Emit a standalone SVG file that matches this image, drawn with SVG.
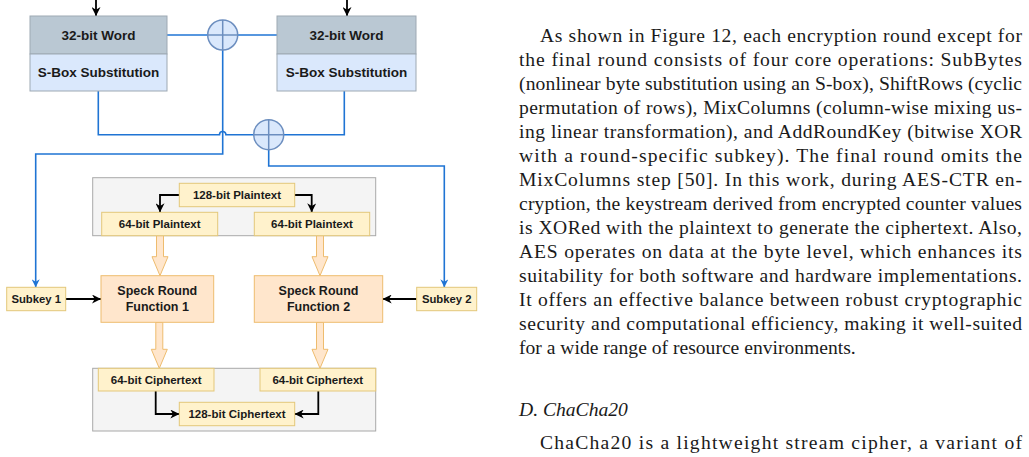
<svg xmlns="http://www.w3.org/2000/svg" width="1029" height="457" viewBox="0 0 1029 457">
<style>
.lbl{font-family:"Liberation Sans",Arial,sans-serif;font-weight:bold;fill:#1a1a1a;text-anchor:middle}
.big{font-size:13.5px}
.mid{font-size:12.5px}
.sm{font-size:11.5px}
.sk{font-size:11.3px}
.hdr{fill:#bac8d3;stroke:#9ea9b3;stroke-width:1}
.sbx{fill:#dae8fc;stroke:#9ea9b3;stroke-width:1}
.yel{fill:#fff2cc;stroke:#e3c77a;stroke-width:1}
.org{fill:#ffe6cc;stroke:#eebc6e;stroke-width:1}
.cont{fill:#f4f4f4;stroke:#a8a8a8;stroke-width:1}
.xor{fill:#dae8fc;stroke:#6c8ebf;stroke-width:1.5}
.xorc{stroke:#6c8ebf;stroke-width:1.5;fill:none}
.blue{fill:none;stroke:#1f74d4;stroke-width:1.6}
.blk{fill:none;stroke:#000;stroke-width:1.8}
.barrow{fill:#ffe6cc;stroke:#eebc6e;stroke-width:1}
.body{font-family:"Liberation Serif","Times New Roman",serif;font-size:19.6px;fill:#1a1a1a}
</style>
<defs>
<marker id="ab" viewBox="0 0 10 10" refX="10" refY="5" markerWidth="9" markerHeight="9" markerUnits="userSpaceOnUse" orient="auto"><path d="M0,0 L10,5 L0,10 L3,5 z" fill="#000"/></marker>
<marker id="au" viewBox="0 0 10 10" refX="10" refY="5" markerWidth="8" markerHeight="8" markerUnits="userSpaceOnUse" orient="auto"><path d="M0,0 L10,5 L0,10 L3,5 z" fill="#1f74d4"/></marker>
</defs>

<g id="containers">
<rect id="plain-container" class="cont" x="92.7" y="177.7" width="283" height="58"/>
<rect id="cipher-container" class="cont" x="92.7" y="368.3" width="283" height="62.7"/>
</g>

<g id="connectors">
<path class="blk" d="M96,0 V16" marker-end="url(#ab)"/>
<path class="blk" d="M347,0 V16" marker-end="url(#ab)"/>
<path class="blue" d="M167,35 H207.7"/>
<path class="blue" d="M237.7,35 H277"/>
<path class="blue" d="M222.7,50 V154 H35.7 V287.3" marker-end="url(#au)"/>
<path class="blue" d="M98.3,91 V134.7 H219.5 A3.2,3.2 0 0 1 225.9,134.7 H253.7"/>
<path class="blue" d="M344.3,91 V134.7 H283.7"/>
<path class="blue" d="M268.7,149.7 V166 H444.3 V287.3" marker-end="url(#au)"/>
<path class="blk" d="M179.3,195 H160 V212.3" marker-end="url(#ab)"/>
<path class="blk" d="M294.7,195 H311.7 V212.3" marker-end="url(#ab)"/>
<path class="blk" d="M65.7,299 H101" marker-end="url(#ab)"/>
<path class="blk" d="M416.7,299 H382.7" marker-end="url(#ab)"/>
<path class="blk" d="M155.7,391 V414 H179.3" marker-end="url(#ab)"/>
<path class="blk" d="M318.3,391 V414 H294.7" marker-end="url(#ab)"/>
<path class="barrow" d="M156.5,235.7 V256.7 H152 L160,275.7 L168,256.7 H163.5 V235.7 Z"/>
<path class="barrow" d="M316.5,235.7 V256.7 H312 L320,275.7 L328,256.7 H323.5 V235.7 Z"/>
<path class="barrow" d="M155.8,322.3 V349.3 H151.3 L159.3,368.3 L167.3,349.3 H162.8 V322.3 Z"/>
<path class="barrow" d="M316.5,322.3 V349.3 H312 L320,368.3 L328,349.3 H323.5 V322.3 Z"/>
</g>

<g id="word-left">
<rect class="hdr" x="30" y="16" width="137" height="38"/>
<rect class="sbx" x="30" y="54" width="137" height="37"/>
<text class="lbl big" x="98.5" y="39.7">32-bit Word</text>
<text class="lbl big" x="98.5" y="77.2">S-Box Substitution</text>
</g>
<g id="word-right">
<rect class="hdr" x="277" y="16" width="139" height="38"/>
<rect class="sbx" x="277" y="54" width="139" height="37"/>
<text class="lbl big" x="346.5" y="39.7">32-bit Word</text>
<text class="lbl big" x="346.5" y="77.2">S-Box Substitution</text>
</g>
<g id="xor-1">
<circle class="xor" cx="222.7" cy="35" r="15"/>
<path class="xorc" d="M207.7,35 H237.7 M222.7,20 V50"/>
</g>
<g id="xor-2">
<circle class="xor" cx="268.7" cy="134.7" r="15"/>
<path class="xorc" d="M253.7,134.7 H283.7 M268.7,119.7 V149.7"/>
</g>

<g id="plaintext-128">
<rect class="yel" x="179.3" y="183.3" width="115.4" height="23.4"/>
<text class="lbl sm" x="237" y="199">128-bit Plaintext</text>
</g>
<g id="plaintext-64-left">
<rect class="yel" x="101.7" y="212.3" width="116" height="23.4"/>
<text class="lbl sm" x="159.7" y="228">64-bit Plaintext</text>
</g>
<g id="plaintext-64-right">
<rect class="yel" x="254.3" y="212.3" width="115.4" height="23.4"/>
<text class="lbl sm" x="312" y="228">64-bit Plaintext</text>
</g>
<g id="speck-1">
<rect class="org" x="101" y="275.7" width="112.7" height="46.6"/>
<text class="lbl mid" x="157.3" y="295.1">Speck Round</text>
<text class="lbl mid" x="157.3" y="311.1">Function 1</text>
</g>
<g id="speck-2">
<rect class="org" x="254.3" y="275.7" width="128.4" height="46.6"/>
<text class="lbl mid" x="318.5" y="295.1">Speck Round</text>
<text class="lbl mid" x="318.5" y="311.1">Function 2</text>
</g>
<g id="subkey-1">
<rect class="yel" x="6.7" y="287.3" width="59" height="23.4"/>
<text class="lbl sk" x="36.2" y="303">Subkey 1</text>
</g>
<g id="subkey-2">
<rect class="yel" x="416.7" y="287.3" width="60" height="23.4"/>
<text class="lbl sk" x="446.7" y="303">Subkey 2</text>
</g>
<g id="ciphertext-64-left">
<rect class="yel" x="98.3" y="368.3" width="115.7" height="22.7"/>
<text class="lbl sm" x="156.2" y="383.7">64-bit Ciphertext</text>
</g>
<g id="ciphertext-64-right">
<rect class="yel" x="260" y="368.3" width="115.7" height="22.7"/>
<text class="lbl sm" x="317.8" y="383.7">64-bit Ciphertext</text>
</g>
<g id="ciphertext-128">
<rect class="yel" x="179.3" y="402.3" width="115.4" height="23.4"/>
<text class="lbl sm" x="237" y="418">128-bit Ciphertext</text>
</g>

<g id="body-text" class="body">
<text x="540" y="42" textLength="482" lengthAdjust="spacing">As shown in Figure 12, each encryption round except for</text>
<text x="519" y="66" textLength="503" lengthAdjust="spacing">the final round consists of four core operations: SubBytes</text>
<text x="519" y="90" textLength="503" lengthAdjust="spacing">(nonlinear byte substitution using an S-box), ShiftRows (cyclic</text>
<text x="519" y="114" textLength="503" lengthAdjust="spacing">permutation of rows), MixColumns (column-wise mixing us-</text>
<text x="519" y="138" textLength="503" lengthAdjust="spacing">ing linear transformation), and AddRoundKey (bitwise XOR</text>
<text x="519" y="162" textLength="503" lengthAdjust="spacing">with a round-specific subkey). The final round omits the</text>
<text x="519" y="186" textLength="503" lengthAdjust="spacing">MixColumns step [50]. In this work, during AES-CTR en-</text>
<text x="519" y="210" textLength="503" lengthAdjust="spacing">cryption, the keystream derived from encrypted counter values</text>
<text x="519" y="234" textLength="503" lengthAdjust="spacing">is XORed with the plaintext to generate the ciphertext. Also,</text>
<text x="519" y="258" textLength="503" lengthAdjust="spacing">AES operates on data at the byte level, which enhances its</text>
<text x="519" y="282" textLength="503" lengthAdjust="spacing">suitability for both software and hardware implementations.</text>
<text x="519" y="306" textLength="503" lengthAdjust="spacing">It offers an effective balance between robust cryptographic</text>
<text x="519" y="330" textLength="503" lengthAdjust="spacing">security and computational efficiency, making it well-suited</text>
<text x="519" y="354">for a wide range of resource environments.</text>
<text x="519" y="416" font-style="italic">D.  ChaCha20</text>
<text x="540" y="449" textLength="482" lengthAdjust="spacing">ChaCha20 is a lightweight stream cipher, a variant of</text>
</g>
</svg>
